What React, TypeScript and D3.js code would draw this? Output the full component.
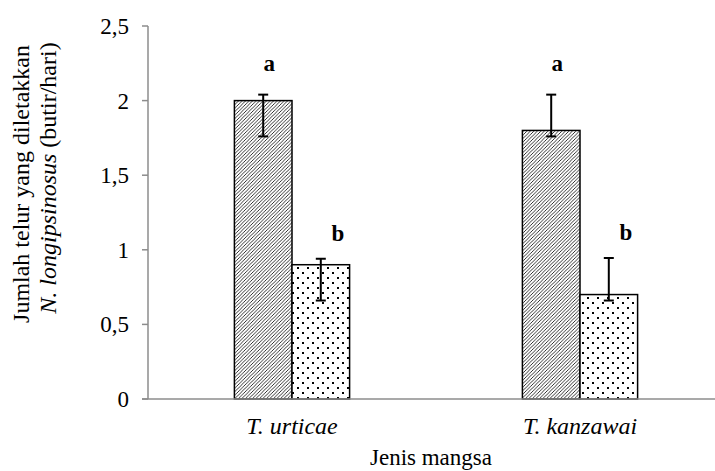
import React from "react";
import * as d3 from "d3";

const categories = ["T. urticae", "T. kanzawai"];
const series = ["hatch", "dots"];
const means = [
  [2.0, 0.9],
  [1.8, 0.7],
];
const errLow = [
  [1.76, 0.66],
  [1.76, 0.66],
];
const errHigh = [
  [2.04, 0.94],
  [2.04, 0.945],
];
const letters = [
  ["a", "b"],
  ["a", "b"],
];
const yTicks = [0, 0.5, 1, 1.5, 2, 2.5];
const tickLabels = ["0", "0,5", "1", "1,5", "2", "2,5"];

const W = 715;
const H = 471;
const left = 148;
const top = 26;
const bottom = 399;
const right = 724;

export default function App() {
  const x = d3.scaleBand<string>().domain(categories).range([left, right]);
  const y = d3.scaleLinear().domain([0, 2.5]).range([bottom, top]);
  const barW = x.bandwidth() * 0.2;
  const font = '"Liberation Serif", "Times New Roman", Tinos, "DejaVu Serif", serif';
  const axisColor = "#8c8c8c";
  const letterDx = [6, 17];
  const letterDy = [24, 18];

  return (
    <svg
      width={W}
      height={H}
      style={{ position: "absolute", left: 0, top: 0, background: "#fff", fontFamily: font }}
    >
      <defs>
        <pattern id="hatch" width="3.5" height="3.5" patternUnits="userSpaceOnUse">
          <rect width="3.5" height="3.5" fill="#fff" />
          <path d="M-1,1 L1,-1 M0,3.5 L3.5,0 M2.5,4.5 L4.5,2.5" stroke="#000" strokeWidth="0.8" />
        </pattern>
        <pattern id="dots" width="10" height="10" patternUnits="userSpaceOnUse">
          <rect width="10" height="10" fill="#fff" />
          <rect x="2" y="2" width="2" height="2" fill="#000" />
          <rect x="7" y="7" width="2" height="2" fill="#000" />
        </pattern>
      </defs>

      {categories.map((c, ci) =>
        series.map((s, si) => {
          const cx = (x(c) as number) + x.bandwidth() / 2;
          const x0 = cx - barW + si * barW;
          const v = means[ci][si];
          return (
            <rect
              key={c + s}
              x={x0}
              y={y(v)}
              width={barW}
              height={y(0) - y(v)}
              fill={`url(#${s})`}
              stroke="#000"
              strokeWidth={1.5}
            />
          );
        })
      )}

      <line x1={left} x2={left} y1={top} y2={bottom} stroke={axisColor} strokeWidth={1.5} />
      <line x1={left - 6} x2={W} y1={bottom} y2={bottom} stroke={axisColor} strokeWidth={1.5} />
      {yTicks.map((t, i) => (
        <g key={t}>
          <line x1={left - 6} x2={left} y1={y(t)} y2={y(t)} stroke={axisColor} strokeWidth={1.5} />
          <text x={left - 19} y={y(t)} dy="0.35em" textAnchor="end" fontSize={23} fill="#000">
            {tickLabels[i]}
          </text>
        </g>
      ))}

      {categories.map((c, ci) =>
        series.map((s, si) => {
          const cx = (x(c) as number) + x.bandwidth() / 2;
          const bx = cx - barW + si * barW + barW / 2;
          return (
            <g key={"e" + c + s} stroke="#000" strokeWidth={2}>
              <line x1={bx} x2={bx} y1={y(errLow[ci][si])} y2={y(errHigh[ci][si])} />
              <line x1={bx - 5} x2={bx + 5} y1={y(errLow[ci][si])} y2={y(errLow[ci][si])} />
              <line x1={bx - 5} x2={bx + 5} y1={y(errHigh[ci][si])} y2={y(errHigh[ci][si])} />
            </g>
          );
        })
      )}

      {categories.map((c, ci) =>
        series.map((s, si) => {
          const cx = (x(c) as number) + x.bandwidth() / 2;
          const bx = cx - barW + si * barW + barW / 2;
          return (
            <text
              key={"l" + c + s}
              x={bx + letterDx[si]}
              y={y(errHigh[ci][si]) - letterDy[si]}
              textAnchor="middle"
              fontWeight="bold"
              fontSize={23}
              fill="#000"
            >
              {letters[ci][si]}
            </text>
          );
        })
      )}

      {categories.map((c) => (
        <text
          key={"c" + c}
          x={(x(c) as number) + x.bandwidth() / 2}
          y={434}
          textAnchor="middle"
          fontStyle="italic"
          fontSize={24}
          fill="#000"
        >
          {c}
        </text>
      ))}

      <text x={431} y={465} textAnchor="middle" fontSize={23} fill="#000">
        Jenis mangsa
      </text>

      <text transform="translate(29,184) rotate(-90)" textAnchor="middle" fontSize={24} fill="#000">
        Jumlah telur yang diletakkan
      </text>
      <text transform="translate(56,178) rotate(-90)" textAnchor="middle" fontSize={24} fill="#000">
        <tspan fontStyle="italic">N. longipsinosus</tspan>
        <tspan> (butir/hari)</tspan>
      </text>
    </svg>
  );
}
